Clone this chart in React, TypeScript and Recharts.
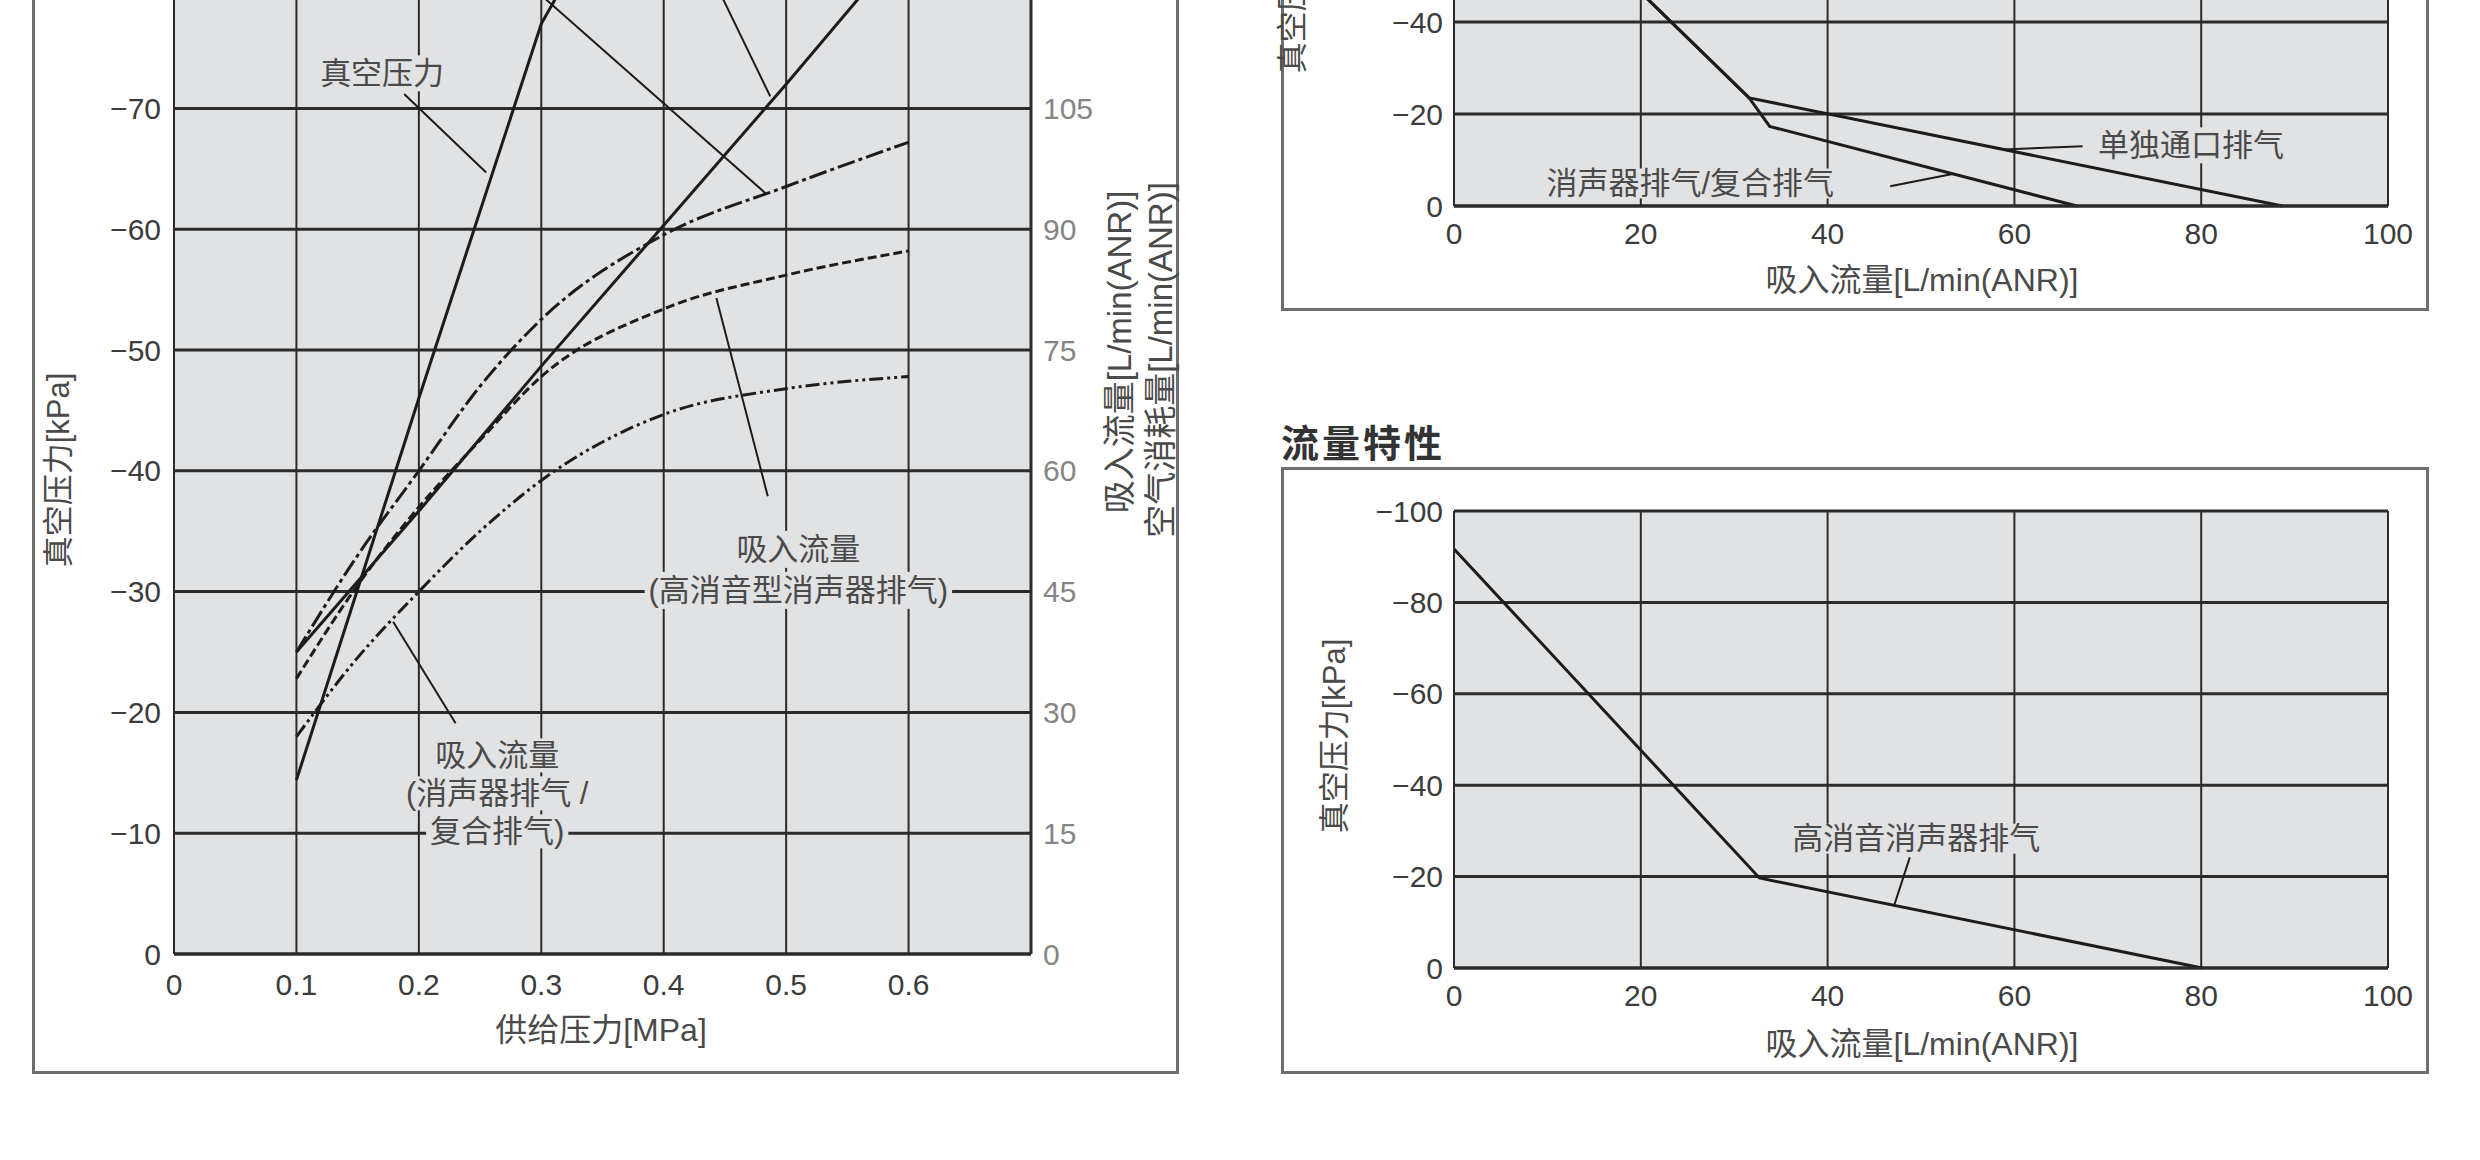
import React from 'react';
import {
  LineChart,
  Line,
  XAxis,
  YAxis,
  CartesianGrid,
  ReferenceLine,
  ReferenceDot,
} from 'recharts';

// 排气特性 (left chart): supply pressure [MPa] vs vacuum [kPa] / flow [L/min(ANR)]
const supplyTicks = [0, 0.1, 0.2, 0.3, 0.4, 0.5, 0.6];
const vacuumTicks = [0, -10, -20, -30, -40, -50, -60, -70, -80, -90, -100];
const flowTicks = [0, 15, 30, 45, 60, 75, 90, 105, 120, 135, 150];

const vacuumP = [0.1, 0.2, 0.3, 0.35, 0.4, 0.5, 0.6];
const vacuumKPa = [-14.4, -46, -77, -86, -88, -88.5, -88.5];

const consumptionP = [0.1, 0.2, 0.3, 0.4, 0.5, 0.6];
const consumptionFlow = [37.5, 55, 73, 90.5, 108, 126];

const portP = [0.1, 0.15, 0.2, 0.25, 0.3, 0.4, 0.5, 0.6];
const portFlow = [37.5, 49.5, 60, 70.5, 78.8, 89.3, 95.3, 100.8];

const quietP = [0.1, 0.15, 0.2, 0.25, 0.3, 0.4, 0.5, 0.6];
const quietFlow = [34.2, 45.8, 55.5, 63.8, 71.7, 80.1, 84.3, 87.3];

const silencerP = [0.1, 0.15, 0.2, 0.25, 0.3, 0.4, 0.5, 0.6];
const silencerFlow = [27, 36.8, 45, 52.5, 58.8, 67, 70.2, 71.7];

// 流量特性 (right charts): suction flow [L/min(ANR)] vs vacuum [kPa]
const suctionTicks = [0, 20, 40, 60, 80, 100];
const vacTicks = [0, -20, -40, -60, -80, -100];

const singlePortQ = [0, 31.6, 88.7];
const singlePortV = [-86, -23.5, 0];

const silencerQ = [0, 31.6, 33.8, 66.7];
const silencerV = [-86, -23.5, -17.3, 0];

const quietQ = [0, 32.7, 80.1];
const quietV = [-91.7, -19.7, 0];

const FONT = "'Liberation Sans', 'Noto Sans CJK SC', sans-serif";
const PLOT_BG = '#e1e2e4';
const GRID = '#2b2b2b';
const LINE = '#1c1c1c';
const TEXT = '#4a4a4a';

const zip = (xs: number[], ys: number[], xk: string, yk: string) =>
  xs.map((x, i) => ({ [xk]: x, [yk]: ys[i] }));

const minus = (v: number) => String(v).replace('-', '\u2212');

function textWidth(s: string, size: number) {
  let w = 0;
  for (const ch of s) {
    if (/[\u3000-\u9fff\uff00-\uffef]/.test(ch)) w += size;
    else if (ch === ' ') w += size * 0.28;
    else if ('()[]/'.includes(ch)) w += size * 0.33;
    else w += size * 0.56;
  }
  return w;
}

function TextBlock({ cx, cy, lines, size = 31, lh = 40 }: any) {
  const n = lines.length;
  return (
    <g>
      {lines.map((t: string, i: number) => {
        const y = cy + (i - (n - 1) / 2) * lh;
        const w = textWidth(t, size) + 8;
        return (
          <g key={i}>
            <rect x={cx - w / 2} y={y - lh / 2 + 2} width={w} height={lh - 4} fill={PLOT_BG} />
            <text
              x={cx}
              y={y}
              textAnchor="middle"
              dominantBaseline="central"
              fontSize={size}
              fill={TEXT}
              fontFamily={FONT}
            >
              {t}
            </text>
          </g>
        );
      })}
    </g>
  );
}

const tickStyle = { fill: '#3c3c3c', fontSize: 30, fontFamily: FONT };

function ExhaustChart() {
  return (
    <div style={{ position: 'absolute', left: 0, top: -320 }}>
      <LineChart width={1180} height={1393} margin={{ top: 66, right: 49, bottom: 29, left: 74 }}>
        <CartesianGrid yAxisId="left" vertical={false} fill={PLOT_BG} fillOpacity={1} stroke={GRID} strokeWidth={3} />
        <CartesianGrid yAxisId="left" horizontal={false} stroke={GRID} strokeWidth={2} />
        <XAxis
          type="number"
          dataKey="p"
          domain={[0, 0.7]}
          ticks={supplyTicks}
          allowDataOverflow
          height={90}
          tickLine={false}
          tickSize={8}
          tickMargin={12}
          axisLine={{ stroke: GRID, strokeWidth: 3 }}
          tick={tickStyle}
        />
        <YAxis
          yAxisId="left"
          type="number"
          domain={[-100, 0]}
          reversed
          ticks={vacuumTicks}
          tickFormatter={minus}
          width={100}
          tickLine={false}
          tickSize={6}
          tickMargin={7}
          axisLine={{ stroke: GRID, strokeWidth: 2 }}
          tick={tickStyle}
        />
        <YAxis
          yAxisId="right"
          orientation="right"
          type="number"
          domain={[0, 150]}
          ticks={flowTicks}
          width={100}
          tickLine={false}
          tickSize={4}
          tickMargin={8}
          axisLine={{ stroke: GRID, strokeWidth: 3 }}
          tick={{ ...tickStyle, fill: '#858585' }}
        />

        <Line yAxisId="left" data={zip(vacuumP, vacuumKPa, 'p', 'v')} dataKey="v" type="linear"
          stroke={LINE} strokeWidth={3} dot={false} isAnimationActive={false} />
        <Line yAxisId="right" data={zip(consumptionP, consumptionFlow, 'p', 'q')} dataKey="q" type="linear"
          stroke={LINE} strokeWidth={3} dot={false} isAnimationActive={false} />
        <Line yAxisId="right" data={zip(portP, portFlow, 'p', 'q')} dataKey="q" type="monotone"
          stroke={LINE} strokeWidth={3} strokeDasharray="18 4 4 4" dot={false} isAnimationActive={false} />
        <Line yAxisId="right" data={zip(quietP, quietFlow, 'p', 'q')} dataKey="q" type="monotone"
          stroke={LINE} strokeWidth={3} strokeDasharray="9 4" dot={false} isAnimationActive={false} />
        <Line yAxisId="right" data={zip(silencerP, silencerFlow, 'p', 'q')} dataKey="q" type="monotone"
          stroke={LINE} strokeWidth={3} strokeDasharray="14 4 3 4 3 4" dot={false} isAnimationActive={false} />

        {/* leader lines */}
        <ReferenceLine yAxisId="left" segment={[{ x: 0.188, y: -71.2 }, { x: 0.255, y: -64.7 }]} stroke={LINE} strokeWidth={2} />
        <ReferenceLine yAxisId="left" segment={[{ x: 0.237, y: -85 }, { x: 0.484, y: -62.9 }]} stroke={LINE} strokeWidth={2} />
        <ReferenceLine yAxisId="left" segment={[{ x: 0.42, y: -85 }, { x: 0.487, y: -71 }]} stroke={LINE} strokeWidth={2} />
        <ReferenceLine yAxisId="left" segment={[{ x: 0.485, y: -37.9 }, { x: 0.443, y: -54.3 }]} stroke={LINE} strokeWidth={2} />
        <ReferenceLine yAxisId="left" segment={[{ x: 0.23, y: -19.1 }, { x: 0.179, y: -27.5 }]} stroke={LINE} strokeWidth={2} />

        <ReferenceDot yAxisId="left" x={0.17} y={-72.9} r={1}
          shape={(pr: any) => <TextBlock cx={pr.cx} cy={pr.cy} lines={['真空压力']} />} />
        <ReferenceDot yAxisId="left" x={0.51} y={-31.8} r={1}
          shape={(pr: any) => <TextBlock cx={pr.cx} cy={pr.cy} lines={['吸入流量', '(高消音型消声器排气)']} lh={41} />} />
        <ReferenceDot yAxisId="left" x={0.264} y={-13.3} r={1}
          shape={(pr: any) => <TextBlock cx={pr.cx} cy={pr.cy} lines={['吸入流量', '(消声器排气 /', '复合排气)']} lh={38} />} />
      </LineChart>
    </div>
  );
}

function FlowChart({ left, top, width, height, margin, children }: any) {
  return (
    <div style={{ position: 'absolute', left, top }}>
      <LineChart width={width} height={height} margin={margin}>
        <CartesianGrid vertical={false} fill={PLOT_BG} fillOpacity={1} stroke={GRID} strokeWidth={3} />
        <CartesianGrid horizontal={false} stroke={GRID} strokeWidth={2} />
        <XAxis
          type="number"
          dataKey="q"
          domain={[0, 100]}
          ticks={suctionTicks}
          height={60}
          tickLine={false}
          tickSize={8}
          tickMargin={9}
          axisLine={{ stroke: GRID, strokeWidth: 3 }}
          tick={tickStyle}
        />
        <YAxis
          type="number"
          domain={[-100, 0]}
          reversed
          ticks={vacTicks}
          tickFormatter={minus}
          width={100}
          tickLine={false}
          tickSize={5}
          tickMargin={6}
          axisLine={{ stroke: GRID, strokeWidth: 2 }}
          tick={tickStyle}
        />
        {children}
      </LineChart>
    </div>
  );
}

const axisTitle = (x: number, y: number, text: string, rotate = false, size = 32): any => (
  <div
    style={{
      position: 'absolute',
      left: x,
      top: y,
      transform: `translate(-50%, -50%)${rotate ? ' rotate(-90deg)' : ''}`,
      whiteSpace: 'nowrap',
      fontSize: size,
      color: TEXT,
      lineHeight: 1,
    }}
  >
    {text}
  </div>
);

export default function App() {
  const frame = '3px solid #6e6e6e';
  return (
    <div
      style={{
        position: 'fixed',
        left: 0,
        top: 0,
        width: 2480,
        height: 1160,
        overflow: 'hidden',
        background: '#fff',
        fontFamily: FONT,
      }}
    >
      <div style={{ position: 'absolute', left: 32, top: -100, width: 1147, height: 1174, border: frame, boxSizing: 'border-box' }} />
      <div style={{ position: 'absolute', left: 1281, top: -100, width: 1148, height: 411, border: frame, boxSizing: 'border-box' }} />
      <div style={{ position: 'absolute', left: 1281, top: 467, width: 1148, height: 607, border: frame, boxSizing: 'border-box' }} />

      <ExhaustChart />

      <FlowChart left={1280} top={-320} width={1148} height={630}
        margin={{ top: 66, right: 40, bottom: 44, left: 74 }}>
        <Line data={zip(singlePortQ, singlePortV, 'q', 'v')} dataKey="v" type="linear"
          stroke={LINE} strokeWidth={3} dot={false} isAnimationActive={false} />
        <Line data={zip(silencerQ, silencerV, 'q', 'v')} dataKey="v" type="linear"
          stroke={LINE} strokeWidth={3} dot={false} isAnimationActive={false} />
        <ReferenceLine segment={[{ x: 58.8, y: -12.3 }, { x: 67.3, y: -13 }]} stroke={LINE} strokeWidth={2} />
        <ReferenceLine segment={[{ x: 46.7, y: -4.3 }, { x: 53.5, y: -7 }]} stroke={LINE} strokeWidth={2} />
        <ReferenceDot x={78.9} y={-13.2} r={1}
          shape={(pr: any) => <TextBlock cx={pr.cx} cy={pr.cy} lines={['单独通口排气']} />} />
        <ReferenceDot x={25.3} y={-4.9} r={1}
          shape={(pr: any) => <TextBlock cx={pr.cx} cy={pr.cy} lines={['消声器排气/复合排气']} lh={34} />} />
      </FlowChart>

      <div style={{ position: 'absolute', left: 1281, top: 425, fontSize: 38, fontWeight: 700, color: '#333', lineHeight: 1, letterSpacing: 3 }}>
        流量特性
      </div>

      <FlowChart left={1280} top={420} width={1148} height={653}
        margin={{ top: 91, right: 40, bottom: 45, left: 74 }}>
        <Line data={zip(quietQ, quietV, 'q', 'v')} dataKey="v" type="linear"
          stroke={LINE} strokeWidth={3} dot={false} isAnimationActive={false} />
        <ReferenceLine segment={[{ x: 48.8, y: -24.2 }, { x: 47.1, y: -13.5 }]} stroke={LINE} strokeWidth={2} />
        <ReferenceDot x={49.5} y={-28.3} r={1}
          shape={(pr: any) => <TextBlock cx={pr.cx} cy={pr.cy} lines={['高消音消声器排气']} lh={34} />} />
      </FlowChart>

      {axisTitle(58, 470, '真空压力[kPa]', true, 31)}
      {axisTitle(1119, 352, '吸入流量[L/min(ANR)]', true, 33)}
      {axisTitle(1160, 360, '空气消耗量[L/min(ANR)]', true, 33)}
      {axisTitle(601, 1030, '供给压力[MPa]')}
      {axisTitle(1292, -24, '真空压力[kPa]', true, 31)}
      {axisTitle(1922, 280, '吸入流量[L/min(ANR)]')}
      {axisTitle(1334, 736, '真空压力[kPa]', true, 31)}
      {axisTitle(1922, 1044, '吸入流量[L/min(ANR)]')}
    </div>
  );
}
